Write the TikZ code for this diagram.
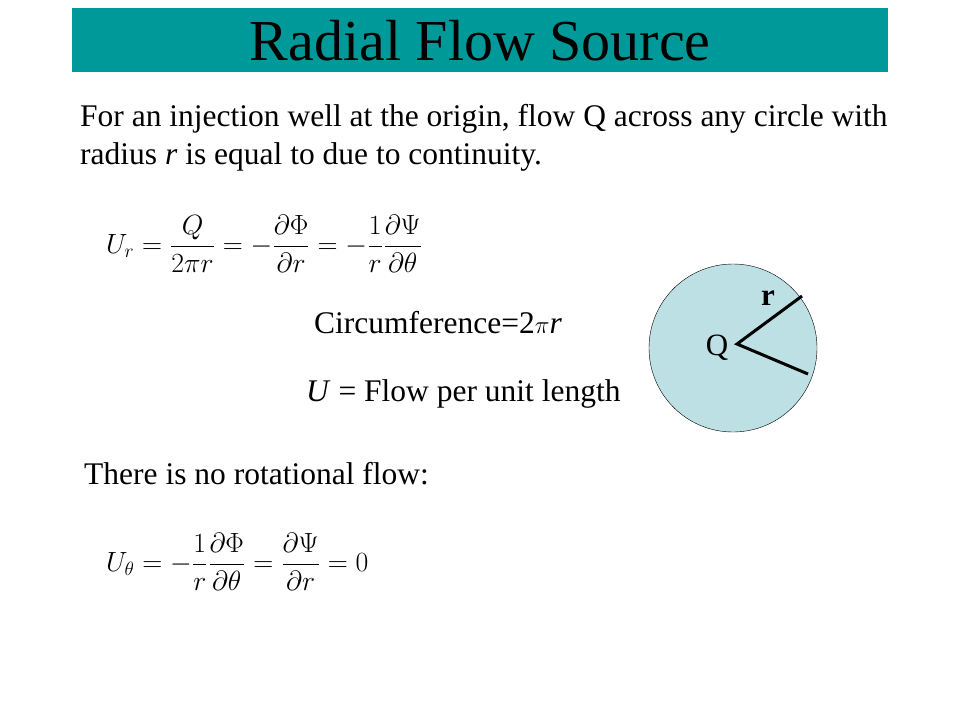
\documentclass[tikz,border=0pt]{standalone}
\usepackage{fontspec}
\setmainfont{Liberation Serif}
\begin{document}
\begin{tikzpicture}[x=1pt,y=-1pt,
  txt/.style={anchor=west,inner sep=0pt,font=\fontsize{31.5}{38}\selectfont},
  eq/.style={anchor=west,inner sep=0pt,font=\fontsize{22}{26}\selectfont}]
\useasboundingbox[fill=white] (0,0) rectangle (960,720);
\node[fill={rgb,255:red,0;green,153;blue,153},minimum width=816pt,minimum height=64pt,inner sep=0pt,anchor=north west,
  font=\fontsize{58}{64}\selectfont] (title) at (72,8) {Radial Flow Source};
\node[txt,align=left,anchor=north west] (p1) at (80,104) {For an injection well at the origin, flow Q across any circle with\\radius \textit{r} is equal to due to continuity.};
\node[eq] (e1) at (106,244) {\scalebox{1.34}{$\displaystyle U_r=\frac{Q}{2\pi r}=-\frac{\partial\Phi}{\partial r}=-\frac{1}{r}\frac{\partial\Psi}{\partial\theta}$}};
\node[txt] (c) at (314,323) {Circumference=2$\pi$\textit{r}};
\node[txt] (u) at (306,394) {\textit{U} = Flow per unit length};
\node[txt] (p2) at (84,474) {There is no rotational flow:};
\node[eq] (e2) at (106,562) {\scalebox{1.34}{$\displaystyle U_\theta=-\frac{1}{r}\frac{\partial\Phi}{\partial\theta}=\frac{\partial\Psi}{\partial r}=0$}};
\node[circle,draw=black,fill={rgb,255:red,189;green,224;blue,228},minimum size=168pt,inner sep=0pt] (circ) at (733,348) {};
\coordinate (o) at (737,344);
\coordinate (a) at (802,296);
\coordinate (b) at (808,374);
\draw[line width=3pt] (a) -- (o) -- (b);
\node[font=\fontsize{31}{34}\selectfont,inner sep=0pt] (q) at (717,348) {Q};
\node[font=\bfseries\fontsize{31}{34}\selectfont,inner sep=0pt] (r) at (768,298) {r};
\end{tikzpicture}
\end{document}
